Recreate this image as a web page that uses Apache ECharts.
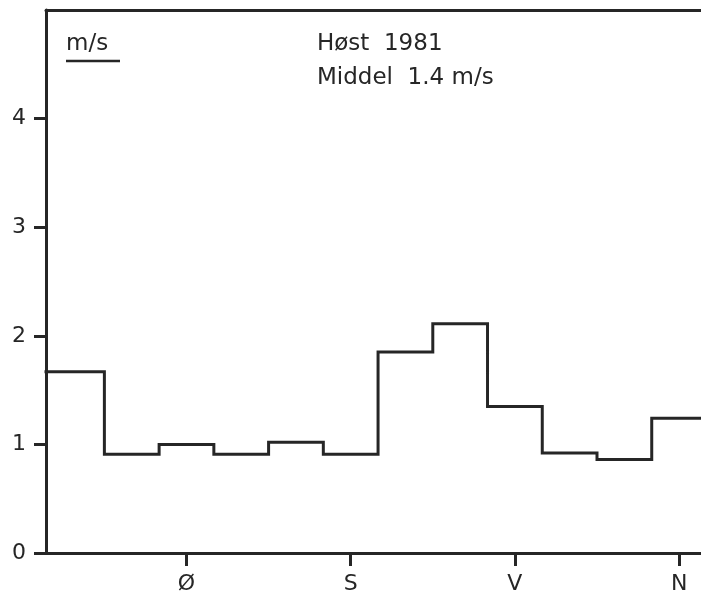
<!DOCTYPE html>
<html>
<head>
<meta charset="utf-8">
<script src="https://cdn.jsdelivr.net/npm/echarts@6/dist/echarts.min.js"></script>
<style>
  html, body { margin: 0; padding: 0; background: #ffffff; }
  #chart { width: 701px; height: 599px; }
</style>
</head>
<body>
<div id="chart"></div>
<script>
// Mean wind speed per 30° direction sector, autumn 1981
const sectorCentres = [30, 60, 90, 120, 150, 180, 210, 240, 270, 300, 330, 360];
const meanSpeed = [1.67, 0.91, 1.00, 0.91, 1.02, 0.91, 1.85, 2.11, 1.35, 0.92, 0.86, 1.24];
const directionTicks = [90, 180, 270, 360];
const directionLabels = ['Ø', 'S', 'V', 'N'];
const speedTicks = [0, 1, 2, 3, 4];

const sectorWidth = 30;
const ink = '#262626';
const font = 'DejaVu Sans';

// Direction axis: starts just before the first sector, runs on past the page's right edge
const axisStart = 13;
const axisEnd = 372;

// Step outline: each sector drawn from its left edge (first one from the axis), closing at the last right edge
const stepPoints = sectorCentres.map((c, i) => [i === 0 ? axisStart : c - sectorWidth / 2, meanSpeed[i]]);
stepPoints.push([sectorCentres[sectorCentres.length - 1] + sectorWidth / 2, meanSpeed[meanSpeed.length - 1]]);

const labelFor = {};
directionTicks.forEach((d, i) => { labelFor[d] = directionLabels[i]; });

const chart = echarts.init(document.getElementById('chart'), null, { renderer: 'canvas' });
chart.setOption({
  backgroundColor: '#ffffff',
  animation: false,
  grid: { left: 46, top: 10, bottom: 46, right: 0 },
  xAxis: [{
    type: 'value',
    min: axisStart, max: axisEnd,
    splitLine: { show: false },
    axisLine: { show: true, lineStyle: { color: ink, width: 3 } },
    axisTick: { show: true, customValues: directionTicks, length: 13, lineStyle: { color: ink, width: 3 } },
    axisLabel: {
      show: true, customValues: directionTicks, margin: 20,
      formatter: v => labelFor[v] || '',
      color: ink, fontFamily: font, fontSize: 22
    }
  }, {
    // top edge of the frame
    type: 'value', position: 'top',
    min: axisStart, max: axisEnd,
    splitLine: { show: false },
    axisLine: { show: true, lineStyle: { color: ink, width: 3 } },
    axisTick: { show: false },
    axisLabel: { show: false }
  }],
  yAxis: {
    type: 'value',
    min: 0, max: 5,
    splitLine: { show: false },
    axisLine: { show: true, lineStyle: { color: ink, width: 3 } },
    axisTick: { show: true, customValues: speedTicks, length: 12, lineStyle: { color: ink, width: 3 } },
    axisLabel: {
      show: true, customValues: speedTicks, margin: 20,
      color: ink, fontFamily: font, fontSize: 22
    }
  },
  series: [{
    type: 'line',
    step: 'end',
    xAxisIndex: 0,
    data: stepPoints,
    symbol: 'none',
    lineStyle: { color: ink, width: 3, cap: 'square', join: 'miter' }
  }],
  graphic: [
    { type: 'text', left: 66, top: 33,
      style: { text: 'm/s', fill: ink, font: '23px "DejaVu Sans"' } },
    { type: 'line', shape: { x1: 66, y1: 61, x2: 120, y2: 61 },
      style: { stroke: ink, lineWidth: 2.5 } },
    { type: 'text', left: 317, top: 33,
      style: { text: 'Høst  1981', fill: ink, font: '23px "DejaVu Sans"' } },
    { type: 'text', left: 317, top: 67,
      style: { text: 'Middel  1.4 m/s', fill: ink, font: '23px "DejaVu Sans"' } }
  ]
});
</script>
</body>
</html>
